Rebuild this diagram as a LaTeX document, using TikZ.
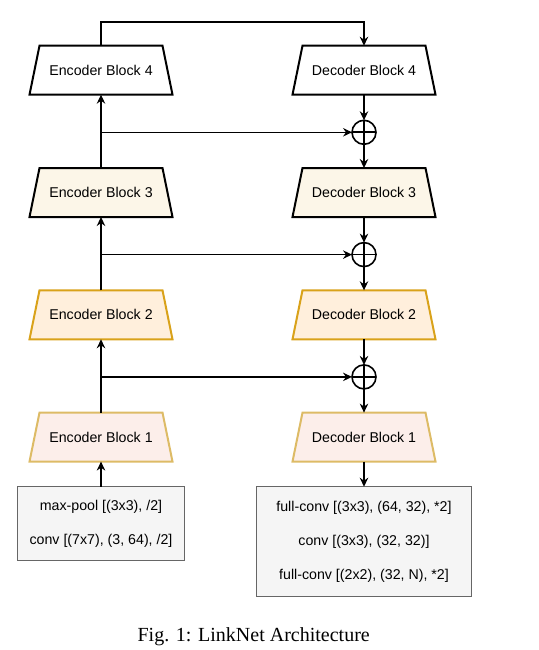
\documentclass[tikz,border=0pt]{standalone}
\usepackage{fontspec}
\setmainfont{Liberation Serif}
\newfontfamily\arialfont{Liberation Sans}
\usetikzlibrary{arrows.meta}
\definecolor{fillthree}{HTML}{FCF6E8}
\definecolor{filltwo}{HTML}{FFEFDC}
\definecolor{drawtwo}{HTML}{D9A21A}
\definecolor{fillone}{HTML}{FCEEEA}
\definecolor{drawone}{HTML}{DDBB66}
\definecolor{boxfill}{HTML}{F5F5F5}
\definecolor{boxdraw}{HTML}{666666}
\tikzset{
  blktext/.style={rectangle, minimum width=143pt, minimum height=49pt,
    inner sep=0pt, outer sep=0pt,
    font=\arialfont\fontsize{14.2}{16}\selectfont},
  shfour/.style={draw=black, fill=white, line width=2pt, line join=miter},
  shthree/.style={draw=black, fill=fillthree, line width=2pt, line join=miter},
  shtwo/.style={draw=drawtwo, fill=filltwo, line width=2pt, line join=miter},
  shone/.style={draw=drawone, fill=fillone, line width=2pt, line join=miter},
  opbox/.style={draw=boxdraw, fill=boxfill, line width=1pt, align=center,
    inner sep=0pt, outer sep=0pt,
    font=\arialfont\fontsize{14.2}{34}\selectfont},
  addnode/.style={circle, draw=black, line width=1.6pt, minimum size=24pt,
    inner sep=0pt, outer sep=0pt,
    path picture={\draw[line width=1.6pt] (path picture bounding box.north) -- (path picture bounding box.south)
      (path picture bounding box.west) -- (path picture bounding box.east);}},
  conn/.style={line width=1.2pt, -{Stealth[length=9pt,width=8.5pt,inset=3pt]}},
}
% trapezoid block: name, x, y, shape style, text
\newcommand\trapblk[5]{%
  \path[#4] (#2-71.5,#3+24.5) -- ++(143,0) -- ++(-10,-49) -- ++(-123,0) -- cycle;
  \node[blktext] (#1) at (#2,#3) {#5};}
\begin{document}
\begin{tikzpicture}[x=1pt,y=-1pt]
\useasboundingbox (0,0) rectangle (538,650);
% encoder column
\trapblk{e4}{101}{70.2}{shfour}{Encoder Block 4}
\trapblk{e3}{101}{192.5}{shthree}{Encoder Block 3}
\trapblk{e2}{101}{314.8}{shtwo}{Encoder Block 2}
\trapblk{e1}{101}{437.1}{shone}{Encoder Block 1}
% decoder column
\trapblk{d4}{364}{70.2}{shfour}{Decoder Block 4}
\trapblk{d3}{364}{192.5}{shthree}{Decoder Block 3}
\trapblk{d2}{364}{314.8}{shtwo}{Decoder Block 2}
\trapblk{d1}{364}{437.1}{shone}{Decoder Block 1}
% adders
\node[addnode] (a3) at (364,132.3) {};
\node[addnode] (a2) at (364,254.6) {};
\node[addnode] (a1) at (364,376.9) {};
% boxes
\node[opbox, minimum width=166.6pt, minimum height=74pt] (inb) at (101,523.7)
  {max-pool [(3x3), /2]\\conv [(7x7), (3, 64), /2]};
\node[opbox, minimum width=214.3pt, minimum height=110pt] (outb) at (364,541.7)
  {full-conv [(3x3), (64, 32), *2]\\conv [(3x3), (32, 32)]\\full-conv [(2x2), (32, N), *2]};
% caption
\node[anchor=base, font=\fontsize{20}{24}\selectfont] (cap) at (253.7,641) {Fig. 1: LinkNet Architecture};
% branch coordinates
\coordinate (s3) at (101,132.3);
\coordinate (s2) at (101,254.6);
\coordinate (s1) at (101,376.9);
\coordinate (tl) at (101,22);
\coordinate (tr) at (364,22);
% encoder connectors
\draw[conn] (inb.north) -- (e1.south);
\draw[conn] (e1.north) -- (e2.south);
\draw[conn] (e2.north) -- (e3.south);
\draw[conn] (e3.north) -- (e4.south);
\draw[conn] (e4.north) -- (tl) -- (tr) -- (d4.north);
% skips
\draw[conn] (s3) -- (a3.west);
\draw[conn] (s2) -- (a2.west);
\draw[conn] (s1) -- (a1.west);
% decoder connectors
\draw[conn] (d4.south) -- (a3.north);
\draw[conn] (a3.south) -- (d3.north);
\draw[conn] (d3.south) -- (a2.north);
\draw[conn] (a2.south) -- (d2.north);
\draw[conn] (d2.south) -- (a1.north);
\draw[conn] (a1.south) -- (d1.north);
\draw[conn] (d1.south) -- (outb.north);
\end{tikzpicture}
\end{document}
